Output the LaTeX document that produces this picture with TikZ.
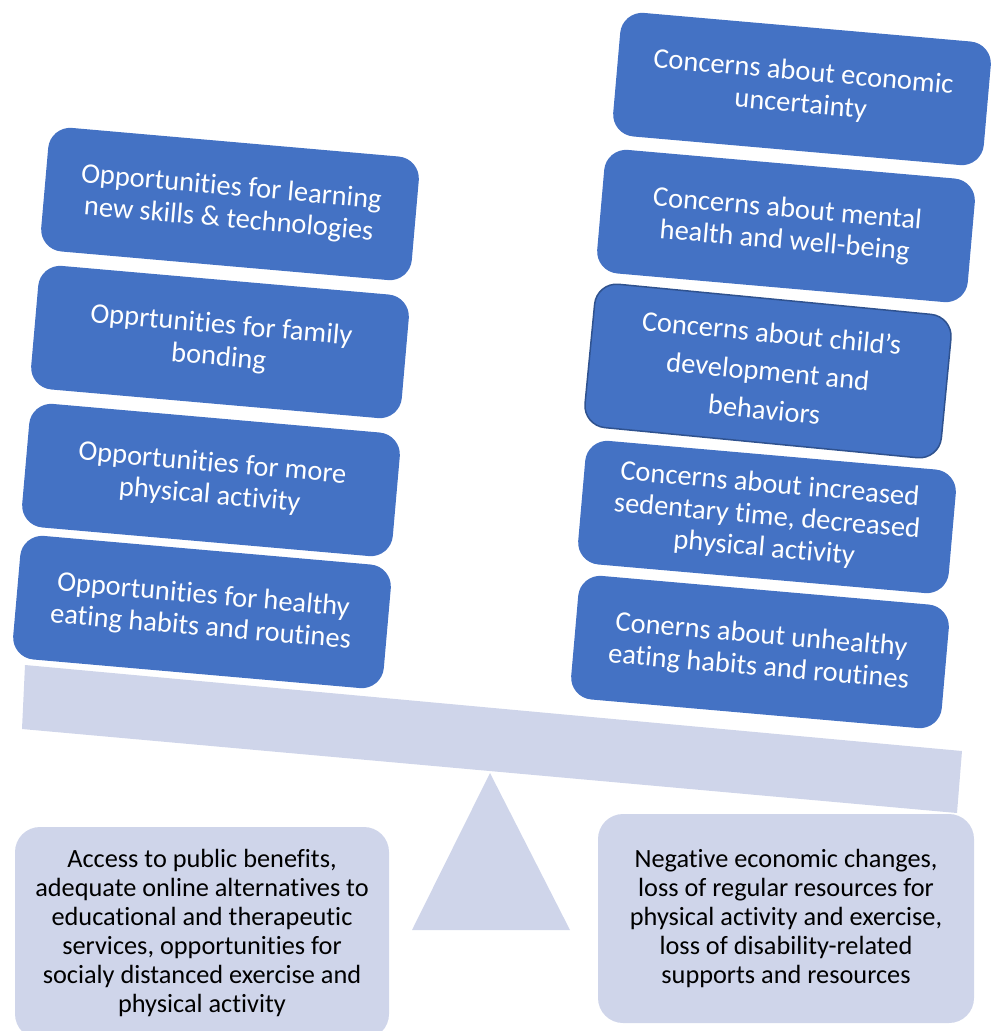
\documentclass[tikz,border=0pt]{standalone}
\usepackage{fontspec}
\setmainfont{Carlito}[Ligatures={NoCommon,NoRequired,NoContextual},RawFeature={-dlig;-liga;-clig}]
\usepackage{tikz}
\definecolor{boxblue}{HTML}{4472C4}
\definecolor{edgeblue}{HTML}{2F528F}
\definecolor{palegray}{HTML}{CFD5EA}

\begin{document}
\begin{tikzpicture}[x=1pt,y=-1pt,
        factor/.style={rectangle,rounded corners=22pt,fill=boxblue,text=white,
            minimum width=372pt,minimum height=124pt,inner sep=0pt,align=center,
            rotate=-5,font=\fontsize{28.5}{32}\selectfont},
        support/.style={rectangle,rounded corners=25pt,fill=palegray,text=black,
            inner sep=0pt,align=center,font=\fontsize{26.3}{28.9}\selectfont}]
    \useasboundingbox (0,0) rectangle (993,1031);

    \fill[palegray] (25,665) -- (962,751) -- (957,813) -- (22,729) -- cycle;
    \fill[palegray] (490,773) -- (570,930) -- (412,930) -- cycle;

    \node[factor] (learn)  at (230,204) {Opportunities for learning\\new skills \& technologies};
    \node[factor] (family) at (220,342) {Opprtunities for family\\bonding};
    \node[factor] (active) at (211,480) {Opportunities for more\\physical activity};
    \node[factor] (eating) at (202,612) {Opportunities for healthy\\eating habits and routines};

    \node[factor] (economy)   at (802,89)  {Concerns about economic\\uncertainty};
    \node[factor] (mental)    at (786,226) {Concerns about mental\\health and well-being};
    \node[factor,draw=edgeblue,line width=1.5pt,minimum width=358pt,minimum height=144pt,rotate=-0.5,
        font=\fontsize{28.5}{38.5}\selectfont]
        (child) at (768,371) {Concerns about child’s\\development and\\behaviors};
    \node[factor] (sedentary) at (767,517) {Concerns about increased\\sedentary time, decreased\\physical activity};
    \node[factor] (unhealthy) at (760,652) {Conerns about unhealthy\\eating habits and routines};

    \node[support,minimum width=374pt,minimum height=212pt] (protect) at (202,933)
        {Access to public benefits,\\adequate online alternatives to\\educational and therapeutic\\services, opportunities for\\socialy distanced exercise and\\physical activity};
    \node[support,minimum width=376pt,minimum height=209pt] (risk) at (786,918.5)
        {Negative economic changes,\\loss of regular resources for\\physical activity and exercise,\\loss of disability-related\\supports and resources};
\end{tikzpicture}
\end{document}
